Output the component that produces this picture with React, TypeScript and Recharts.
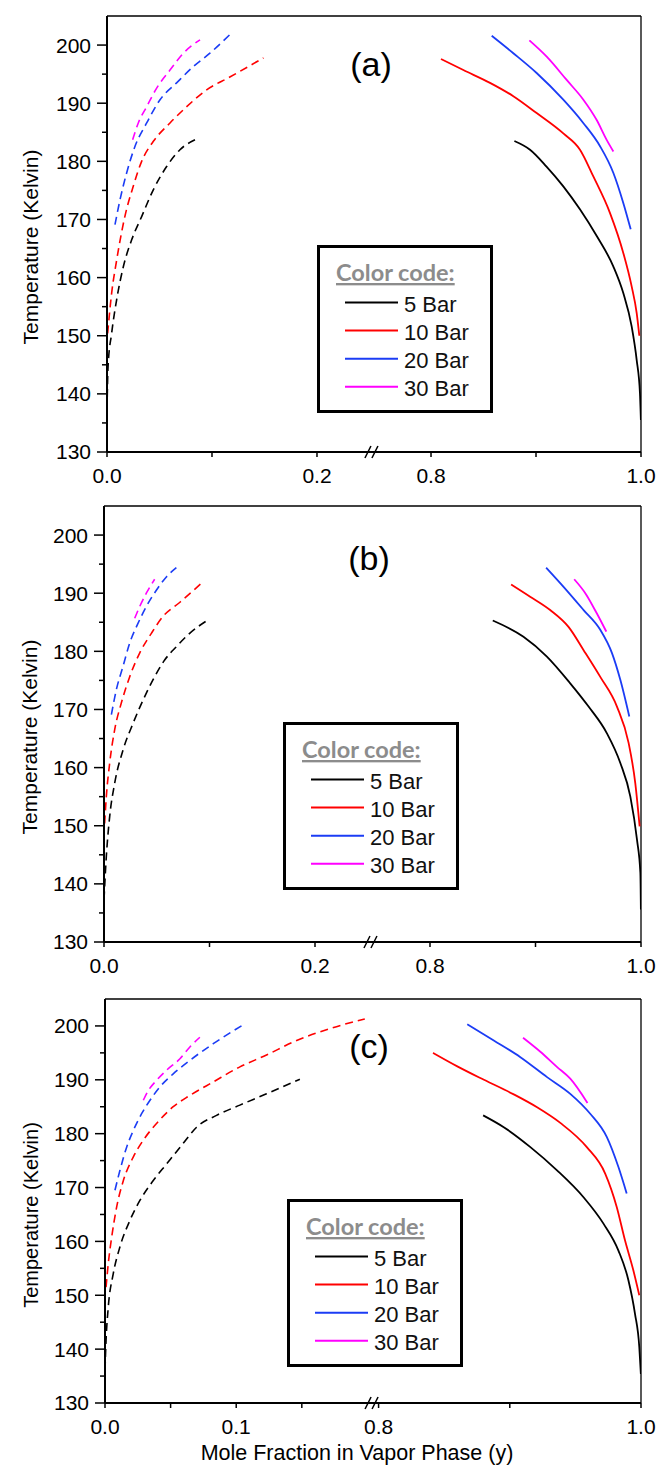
import React from 'react';
import { LineChart, Line, XAxis, YAxis, ReferenceLine, ReferenceDot, Legend } from 'recharts';

type Pt = [number, number];

const SERIES_NAMES = ['5 Bar', '10 Bar', '20 Bar', '30 Bar'];
const SERIES_COLORS = ['#000000', '#ff0000', '#1b3cf5', '#ff00ff'];
const LEGEND_TITLE = 'Color code:';
const Y_TITLE = 'Temperature (Kelvin)';
const X_TITLE = 'Mole Fraction in Vapor Phase (y)';
const PANEL_TAGS = ['(a)', '(b)', '(c)'];
const Y_MAJOR_TICKS = [130, 140, 150, 160, 170, 180, 190, 200];
const Y_MINOR_TICKS = [135, 145, 155, 165, 175, 185, 195];
const X_TICKS_AB = [0, 0.1, 0.2, 0.8, 0.9, 1.0];
const X_LABELS_AB = ['0.0', '', '0.2', '0.8', '', '1.0'];
const X_TICKS_C = [0, 0.05, 0.1, 0.15, 0.8, 0.9, 1.0];
const X_LABELS_C = ['0.0', '', '0.1', '', '0.8', '', '1.0'];

// Panel (a): [mole fraction, temperature]
const A_5_DASH: Pt[] = [[0, 137.2], [0.001, 144.7], [0.0044, 150.4], [0.0092, 156.2], [0.0156, 161.9], [0.0235, 166.5], [0.033, 170.5], [0.0441, 175.1], [0.0568, 179.1], [0.0695, 182.0], [0.0838, 183.7]];
const A_10_DASH: Pt[] = [[0.0006, 150.4], [0.0044, 157.3], [0.0092, 163.0], [0.017, 170.5], [0.025, 175.7], [0.033, 180.0], [0.044, 183.4], [0.06, 186.6], [0.0759, 189.4], [0.0949, 192.3], [0.117, 194.5], [0.149, 197.8]];
const A_20_DASH: Pt[] = [[0.0076, 169.1], [0.0124, 173.4], [0.0187, 178.0], [0.0267, 182.6], [0.0378, 186.6], [0.0505, 190.6], [0.0663, 193.5], [0.0822, 196.3], [0.098, 198.6], [0.117, 201.8]];
const A_30_DASH: Pt[] = [[0.0244, 183.7], [0.0298, 186.6], [0.0378, 189.4], [0.0473, 192.6], [0.06, 195.7], [0.0727, 198.6], [0.0886, 200.9]];
const A_5_SOLID: Pt[] = [[0.8794, 183.5], [0.8943, 182.0], [0.91, 179.1], [0.926, 175.7], [0.942, 171.7], [0.958, 167.1], [0.9737, 161.9], [0.9832, 157.3], [0.9911, 151.6], [0.9959, 145.8], [0.999, 140.1], [0.9999, 135.5]];
const A_10_SOLID: Pt[] = [[0.8095, 197.6], [0.8308, 195.7], [0.8562, 193.5], [0.8784, 191.2], [0.9006, 188.3], [0.926, 184.8], [0.9419, 182.0], [0.9546, 177.4], [0.9705, 171.1], [0.9832, 164.2], [0.9911, 158.5], [0.9959, 153.9], [0.9984, 150.0]];
const A_20_SOLID: Pt[] = [[0.8578, 201.6], [0.8784, 198.6], [0.9006, 195.2], [0.926, 190.6], [0.945, 186.6], [0.961, 182.6], [0.9737, 178.0], [0.9832, 172.8], [0.9902, 168.3]];
const A_30_SOLID: Pt[] = [[0.8937, 200.8], [0.9102, 198.0], [0.9292, 194.0], [0.9451, 190.6], [0.9578, 187.1], [0.9673, 183.7], [0.9737, 181.7]];

// Panel (b)
const B_5_DASH: Pt[] = [[0, 137.3], [0.0022, 144.7], [0.0054, 151.6], [0.0101, 157.3], [0.018, 163.0], [0.0275, 167.6], [0.037, 171.6], [0.0464, 175.1], [0.0575, 178.5], [0.0686, 180.8], [0.0812, 183.1], [0.0995, 185.5]];
const B_10_DASH: Pt[] = [[0.0006, 150.4], [0.0022, 155.0], [0.0054, 160.8], [0.0101, 166.5], [0.0164, 171.1], [0.0243, 175.6], [0.0338, 179.7], [0.0449, 183.1], [0.0559, 186.0], [0.0717, 188.4], [0.0923, 191.7]];
const B_20_DASH: Pt[] = [[0.007, 169.1], [0.0117, 173.4], [0.018, 177.4], [0.0243, 181.4], [0.0322, 184.8], [0.0401, 187.7], [0.0496, 190.5], [0.0591, 192.8], [0.0686, 194.4]];
const B_30_DASH: Pt[] = [[0.0291, 185.7], [0.0338, 187.7], [0.0401, 190.0], [0.048, 192.4]];
const B_5_SOLID: Pt[] = [[0.8595, 185.3], [0.8886, 182.5], [0.9108, 179.1], [0.9329, 174.5], [0.9503, 170.5], [0.9677, 165.9], [0.9804, 160.8], [0.9899, 155.0], [0.9962, 147.6], [0.9994, 141.9], [0.9999, 135.6]];
const B_10_SOLID: Pt[] = [[0.8769, 191.5], [0.8949, 189.4], [0.9139, 187.1], [0.9313, 184.2], [0.9456, 180.2], [0.9614, 175.6], [0.9772, 170.5], [0.9883, 164.2], [0.9946, 157.3], [0.9987, 149.9]];
const B_20_SOLID: Pt[] = [[0.9101, 194.4], [0.9266, 191.1], [0.9456, 187.1], [0.9614, 183.7], [0.9725, 179.7], [0.9804, 175.1], [0.9889, 168.8]];
const B_30_SOLID: Pt[] = [[0.9367, 192.4], [0.9472, 190.0], [0.9582, 186.5], [0.9671, 183.4]];

// Panel (c)
const C_5_DASH: Pt[] = [[0, 136.1], [0.0008, 141.6], [0.0025, 147.8], [0.0063, 154.0], [0.0114, 159.0], [0.019, 163.9], [0.0266, 167.6], [0.0368, 171.3], [0.047, 174.4], [0.0596, 178.2], [0.0698, 181.2], [0.085, 183.4], [0.1028, 185.3], [0.1231, 187.4], [0.1485, 190.1]];
const C_10_DASH: Pt[] = [[0.0008, 151.5], [0.0025, 155.9], [0.0051, 160.8], [0.0089, 166.4], [0.014, 171.3], [0.0216, 175.7], [0.0292, 178.8], [0.0393, 181.9], [0.052, 185.0], [0.0647, 187.1], [0.0825, 189.6], [0.1028, 192.4], [0.1231, 194.6], [0.1434, 197.0], [0.1713, 199.5], [0.198, 201.3]];
const C_20_DASH: Pt[] = [[0.0076, 169.5], [0.0114, 173.2], [0.0165, 177.5], [0.0216, 180.6], [0.0279, 183.7], [0.0343, 186.2], [0.0419, 188.7], [0.052, 191.1], [0.0647, 193.6], [0.0825, 196.7], [0.1066, 200.4]];
const C_30_DASH: Pt[] = [[0.0292, 186.2], [0.033, 188.0], [0.0393, 189.9], [0.047, 191.8], [0.0571, 193.9], [0.0647, 196.1], [0.0723, 197.9]];
const C_5_SOLID: Pt[] = [[0.8797, 183.4], [0.8954, 181.2], [0.9157, 177.5], [0.936, 173.2], [0.9562, 168.2], [0.9714, 163.3], [0.9828, 158.3], [0.9904, 152.8], [0.9954, 146.6], [0.9987, 140.4], [0.9999, 135.4]];
const C_10_SOLID: Pt[] = [[0.8415, 195.0], [0.86, 192.5], [0.8803, 190.0], [0.903, 187.3], [0.9208, 184.9], [0.9385, 182.0], [0.9587, 177.5], [0.9727, 172.6], [0.9815, 166.4], [0.9878, 160.2], [0.9942, 154.6], [0.9987, 150.0]];
const C_20_SOLID: Pt[] = [[0.8676, 200.3], [0.8878, 197.3], [0.9081, 194.2], [0.9284, 190.5], [0.9461, 187.4], [0.9613, 183.7], [0.9739, 179.4], [0.9828, 173.8], [0.9891, 168.9]];
const C_30_SOLID: Pt[] = [[0.9101, 197.8], [0.9233, 195.2], [0.9359, 192.4], [0.9461, 190.2], [0.9592, 185.7]];

const FONT = "'Liberation Sans', Arial, sans-serif";

interface PanelCfg {
  tag: string;
  dashed: Pt[][];
  solid: Pt[][];
  gap: number;
  breakAt: number;
  xTicks: number[];
  xLabels: string[];
  top: number;
  height: number;
  margin: { top: number; right: number; bottom: number; left: number };
  yWidth: number;
  legendPos: { left: number; top: number };
  tagPos: { x: number; y: number };
  yTitlePos: { x: number; y: number };
  yTitleSize: number;
  showXTitle: boolean;
}

const PANELS: PanelCfg[] = [
  {
    tag: PANEL_TAGS[0],
    dashed: [A_5_DASH, A_10_DASH, A_20_DASH, A_30_DASH],
    solid: [A_5_SOLID, A_10_SOLID, A_20_SOLID, A_30_SOLID],
    gap: 0.4914, breakAt: 0.2533,
    xTicks: X_TICKS_AB, xLabels: X_LABELS_AB,
    top: 0, height: 490,
    margin: { top: 16, right: 18, bottom: 8, left: 0 }, yWidth: 107,
    legendPos: { left: 317, top: 245 },
    tagPos: { x: 371, y: 76 },
    yTitlePos: { x: 38, y: 247 }, yTitleSize: 21,
    showXTitle: false,
  },
  {
    tag: PANEL_TAGS[1],
    dashed: [B_5_DASH, B_10_DASH, B_20_DASH, B_30_DASH],
    solid: [B_5_SOLID, B_10_SOLID, B_20_SOLID, B_30_SOLID],
    gap: 0.491, breakAt: 0.254,
    xTicks: X_TICKS_AB, xLabels: X_LABELS_AB,
    top: 490, height: 490,
    margin: { top: 16, right: 18, bottom: 8, left: 0 }, yWidth: 104,
    legendPos: { left: 283, top: 232 },
    tagPos: { x: 369, y: 80 },
    yTitlePos: { x: 37, y: 247 }, yTitleSize: 21,
    showXTitle: false,
  },
  {
    tag: PANEL_TAGS[2],
    dashed: [C_5_DASH, C_10_DASH, C_20_DASH, C_30_DASH],
    solid: [C_5_SOLID, C_10_SOLID, C_20_SOLID, C_30_SOLID],
    gap: 0.5915, breakAt: 0.2043,
    xTicks: X_TICKS_C, xLabels: X_LABELS_C,
    top: 980, height: 486,
    margin: { top: 19, right: 18, bottom: 33, left: 0 }, yWidth: 105,
    legendPos: { left: 287, top: 219 },
    tagPos: { x: 369, y: 78 },
    yTitlePos: { x: 38, y: 235 }, yTitleSize: 20,
    showXTitle: true,
  },
];

const MinorTick = (props: any) => {
  const { cx, cy } = props;
  return <line x1={cx - 5} x2={cx} y1={cy} y2={cy} stroke="#000" strokeWidth={1.5} />;
};

const BreakMark = (props: any) => {
  const { cx, cy } = props;
  return (
    <g>
      <line x1={cx - 8} y1={cy + 6} x2={cx - 2} y2={cy - 6} stroke="#000" strokeWidth={1.5} />
      <line x1={cx - 1} y1={cy + 6} x2={cx + 5} y2={cy - 6} stroke="#000" strokeWidth={1.5} />
    </g>
  );
};

const LegendBox = () => (
  <svg width={176} height={168} style={{ display: 'block' }}>
    <rect x={1.5} y={1.5} width={173} height={165} fill="#fff" stroke="#000" strokeWidth={3} />
    <text x={19} y={36} fill="#8c8c8c" style={{ fontSize: '23.5px', fontFamily: "Lato, 'Open Sans', sans-serif", fontWeight: 700, textDecoration: 'underline' }}>
      {LEGEND_TITLE}
    </text>
    {SERIES_NAMES.map((n, i) => {
      const y = 57.5 + i * 28.1;
      return (
        <g key={n}>
          <line x1={28} x2={81} y1={y} y2={y} stroke={SERIES_COLORS[i]} strokeWidth={2} />
          <text x={87} y={y + 9} fill="#111" style={{ fontSize: '22px', fontFamily: FONT }}>
            {n}
          </text>
        </g>
      );
    })}
  </svg>
);

const prime = (x: number, gap: number) => (x > 0.5 ? x - gap : x);
const toPts = (arr: Pt[], gap: number) => arr.map(([x, t]) => ({ x: prime(x, gap), t }));

const Panel = ({ cfg }: { cfg: PanelCfg }) => {
  const xMax = 1 - cfg.gap;
  const xt = cfg.xTicks.map((v) => prime(v, cfg.gap));
  return (
    <div style={{ position: 'absolute', left: 0, top: cfg.top }}>
      <LineChart width={659} height={cfg.height} margin={cfg.margin}>
        <XAxis
          dataKey="x"
          type="number"
          domain={[0, xMax]}
          allowDataOverflow
          ticks={xt}
          interval={0}
          tickFormatter={(_v: number, i: number) => cfg.xLabels[i]}
          tickSize={5}
          tickMargin={11}
          tickLine={{ stroke: '#000', strokeWidth: 1.5 }}
          axisLine={{ stroke: '#000', strokeWidth: 2 }}
          tick={{ fill: '#000', fontSize: 21, fontFamily: FONT }}
          height={30}
        />
        <YAxis
          type="number"
          domain={[130, 205]}
          allowDataOverflow
          ticks={Y_MAJOR_TICKS}
          interval={0}
          width={cfg.yWidth}
          tickSize={10}
          tickMargin={6}
          tickLine={{ stroke: '#000', strokeWidth: 1.5 }}
          axisLine={{ stroke: '#000', strokeWidth: 2 }}
          tick={{ fill: '#000', fontSize: 21, fontFamily: FONT }}
        />
        {Y_MINOR_TICKS.map((v) => (
          <ReferenceDot key={'m' + v} x={0} y={v} r={0} ifOverflow="visible" shape={(p: any) => <MinorTick {...p} />} />
        ))}
        <ReferenceLine y={205} stroke="#000" strokeWidth={1.3} />
        <ReferenceLine x={xMax} stroke="#000" strokeWidth={1.3} />
        {cfg.dashed.map((s, i) => (
          <Line
            key={'d' + i}
            data={toPts(s, cfg.gap)}
            dataKey="t"
            type="monotone"
            stroke={SERIES_COLORS[i]}
            strokeWidth={1.6}
            strokeDasharray="8 5"
            dot={false}
            activeDot={false}
            legendType="none"
            isAnimationActive={false}
          />
        ))}
        {cfg.solid.map((s, i) => (
          <Line
            key={'s' + i}
            name={SERIES_NAMES[i]}
            data={toPts(s, cfg.gap)}
            dataKey="t"
            type="monotone"
            stroke={SERIES_COLORS[i]}
            strokeWidth={1.8}
            dot={false}
            activeDot={false}
            isAnimationActive={false}
          />
        ))}
        <ReferenceDot x={cfg.breakAt} y={130} r={0} ifOverflow="visible" shape={(p: any) => <BreakMark {...p} />} />
        <Legend
          layout="vertical"
          align="center"
          verticalAlign="middle"
          content={() => <LegendBox />}
          wrapperStyle={{ left: cfg.legendPos.left, top: cfg.legendPos.top, width: 176, height: 168 }}
        />
        <text x={cfg.tagPos.x} y={cfg.tagPos.y} textAnchor="middle" fill="#000" style={{ fontSize: '34px', fontFamily: FONT }}>
          {cfg.tag}
        </text>
        <text
          x={cfg.yTitlePos.x}
          y={cfg.yTitlePos.y}
          transform={`rotate(-90, ${cfg.yTitlePos.x}, ${cfg.yTitlePos.y})`}
          textAnchor="middle"
          fill="#000"
          style={{ fontSize: `${cfg.yTitleSize}px`, fontFamily: FONT }}
        >
          {Y_TITLE}
        </text>
        {cfg.showXTitle && (
          <text x={357} y={480} textAnchor="middle" fill="#000" style={{ fontSize: '21.5px', fontFamily: FONT }}>
            {X_TITLE}
          </text>
        )}
      </LineChart>
    </div>
  );
}

export default function App() {
  return (
    <div style={{ position: 'absolute', left: 0, top: 0, width: 659, height: 1466, background: '#fff' }}>
      {PANELS.map((cfg) => (
        <Panel key={cfg.tag} cfg={cfg} />
      ))}
    </div>
  );
}
